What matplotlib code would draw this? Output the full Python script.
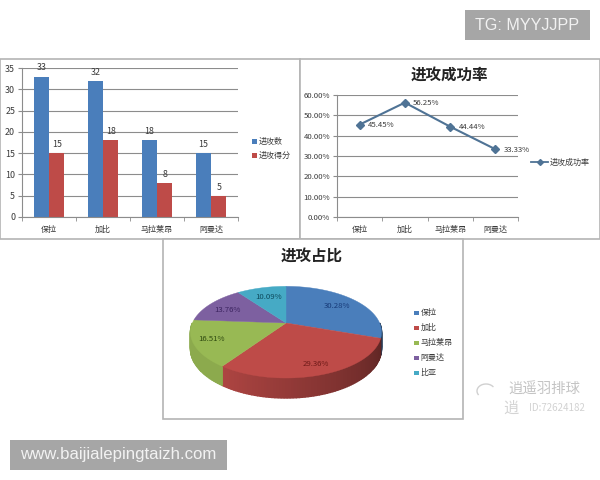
# -*- coding: utf-8 -*-
import matplotlib
matplotlib.use('Agg')
import matplotlib.pyplot as plt
import numpy as np
from matplotlib.patches import Rectangle

plt.rcParams['font.family'] = ['Noto Sans CJK SC', 'DejaVu Sans']

# data
players = ['保拉', '加比', '马拉莱昂', '阿曼达']
attacks = [33, 32, 18, 15]
points = [15, 18, 8, 5]
success_rate = [45.45, 56.25, 44.44, 33.33]
pie_names = ['保拉', '加比', '马拉莱昂', '阿曼达', '比亚']
pie_share = [30.28, 29.36, 16.51, 13.76, 10.09]

BLUE = '#4a7ebb'
RED = '#be4b48'
GREEN = '#98b954'
PURPLE = '#7d60a0'
TEAL = '#46aac5'
pie_colors = [BLUE, RED, GREEN, PURPLE, TEAL]
LINE = '#4f7395'
GRID = '#8c8c8c'
TXT = '#3a3a3a'
FRAME = '#b4b4b4'
CJK_SIZE = 5.8
NUM_SIZE = 5.6

W, H = 600, 480
fig = plt.figure(figsize=(6, 4.8), dpi=100, facecolor='white')


def axes_px(left, top, right, bottom):
    # 像素坐标 -> figure 坐标
    return fig.add_axes([left / W, 1 - bottom / H, (right - left) / W, (bottom - top) / H])


# 底层：边框、水印
bg = fig.add_axes([0, 0, 1, 1], zorder=0)
bg.set_xlim(0, W)
bg.set_ylim(H, 0)
bg.axis('off')
for x0, y0, x1, y1 in [(0, 59, 300, 239), (300, 59, 600, 239), (163, 239, 463, 419)]:
    bg.add_patch(Rectangle((x0, y0), x1 - x0, y1 - y0, fc='white', ec=FRAME, lw=1.2))


def style_axis(ax):
    for s in ['top', 'right']:
        ax.spines[s].set_visible(False)
    for s in ['left', 'bottom']:
        ax.spines[s].set_color(GRID)
        ax.spines[s].set_linewidth(0.8)
    ax.yaxis.grid(True, color=GRID, lw=0.8)
    ax.set_axisbelow(True)
    ax.tick_params(axis='y', length=3, color=GRID, labelsize=NUM_SIZE + 0.8, labelcolor=TXT, pad=2)
    ax.tick_params(axis='x', which='minor', length=3, color=GRID)
    ax.tick_params(axis='x', which='major', length=0, labelsize=CJK_SIZE, labelcolor=TXT, pad=6)
    ax.set_xticks(np.arange(0, len(players)))
    ax.set_xticklabels(players)
    ax.set_xticks(np.arange(-0.5, len(players)), minor=True)
    ax.set_xlim(-0.5, len(players) - 0.5)
    ax.patch.set_alpha(0)


# 柱状图
ax1 = axes_px(22, 68, 238, 217)
ax1.set_zorder(1)
style_axis(ax1)
x = np.arange(len(players))
bw = 0.285
bars1 = ax1.bar(x - bw / 2, attacks, bw, color=BLUE)
bars2 = ax1.bar(x + bw / 2, points, bw, color=RED)
for b in list(bars1) + list(bars2):
    ax1.annotate(str(int(b.get_height())), (b.get_x() + b.get_width() / 2, b.get_height()),
                 xytext=(0, 3), textcoords='offset points', ha='center', va='bottom',
                 fontsize=NUM_SIZE + 0.8, color=TXT, annotation_clip=False)
ax1.set_ylim(0, 35)
ax1.set_yticks(range(0, 36, 5))

for i, (name, c) in enumerate(zip(['进攻数', '进攻得分'], [BLUE, RED])):
    yy = 141 + i * 14.5
    bg.add_patch(Rectangle((252, yy - 2.5), 5, 5, fc=c, ec='none', zorder=3))
    bg.text(258.5, yy, name, fontsize=CJK_SIZE, color=TXT, va='center', zorder=3)

# 折线图
ax2 = axes_px(337, 95, 518, 217)
ax2.set_zorder(1)
style_axis(ax2)
ax2.plot(x, success_rate, color=LINE, lw=1.5, marker='D', ms=3.6, mfc=LINE, mec=LINE)
for i, v in enumerate(success_rate):
    ax2.annotate('%.2f%%' % v, (x[i], v), xytext=(6, -0.5), textcoords='offset points',
                 ha='left', va='center', fontsize=NUM_SIZE, color=TXT, annotation_clip=False)
ax2.set_ylim(0, 60)
ax2.set_yticks(range(0, 61, 10))
ax2.set_yticklabels(['%.2f%%' % t for t in range(0, 61, 10)], fontsize=NUM_SIZE)

bg.plot([531, 548], [162, 162], color=LINE, lw=1.3, zorder=3)
bg.plot([539.5], [162], color=LINE, marker='D', ms=3, zorder=3)
bg.text(550, 162, '进攻成功率', fontsize=CJK_SIZE, color=TXT, va='center', zorder=3)
bg.text(449, 74.5, '进攻成功率', fontsize=11.2, weight='bold', color='#222222', ha='center', va='center', zorder=3)
bg.text(312, 255.5, '进攻占比', fontsize=11.2, weight='bold', color='#222222', ha='center', va='center', zorder=3)

# 3D 饼图：用透视投影画顶面和侧面
pie = fig.add_axes([0, 0, 1, 1], zorder=2)
pie.set_xlim(0, W)
pie.set_ylim(H, 0)
pie.axis('off')
cx, cy = 286, 323
Rx, Ry, persp, depth = 93.6, 44, 0.2, 16


def project(theta):
    # theta 从正上方顺时针，弧度
    u, v = np.sin(theta), np.cos(theta)
    d = 1 + persp * v
    return cx + Rx * u / d, cy - Ry * v / d, depth / d


share = np.array(pie_share)
edges = np.concatenate([[0], np.cumsum(share)]) / share.sum() * 2 * np.pi


def darker(color, k):
    return tuple(np.array(matplotlib.colors.to_rgb(color)) * k)


# 侧面，右边暗左边亮
for i, c in enumerate(pie_colors):
    lo, hi = max(edges[i], np.pi / 2), min(edges[i + 1], 3 * np.pi / 2)
    if lo >= hi:
        continue
    steps = np.linspace(lo, hi, max(int((hi - lo) * 40), 2))
    for a, b in zip(steps[:-1], steps[1:]):
        xa, ya, da = project(a)
        xb, yb, db = project(b)
        k = min(0.42 + 0.5 * (a - np.pi / 2) / np.radians(125), 0.92)
        col = darker(c, k)
        pie.fill([xa, xb, xb, xa], [ya, yb, yb + db, ya + da], fc=col, ec=col, lw=1.0)

# 顶面
for i, c in enumerate(pie_colors):
    th = np.linspace(edges[i], edges[i + 1], 80)
    px, py, _ = project(th)
    pie.fill(np.r_[cx, px], np.r_[cy, py], fc=c, ec=c, lw=0.3)

label_pos = [(336.5, 306), (316, 364), (212, 339), (227.5, 310.5), (269, 297)]
label_cols = ['#173a78', '#6e1a18', '#2f4a10', '#3c2460', '#0d4a5c']
for v, (lx, ly), lc in zip(pie_share, label_pos, label_cols):
    pie.text(lx, ly, '%.2f%%' % v, fontsize=NUM_SIZE, color=lc, ha='center', va='center')

for i, (name, c) in enumerate(zip(pie_names, pie_colors)):
    yy = 312.5 + i * 15
    pie.add_patch(Rectangle((414, yy - 2), 4.5, 4.5, fc=c, ec='none'))
    pie.text(420.5, yy, name, fontsize=CJK_SIZE, color=TXT, va='center')

# 水印
bg.text(544, 390, '逍遥羽排球', fontsize=10.4, color='#c4c4c4', ha='center', va='center', zorder=3)
bg.text(557, 408, 'ID:72624182', fontsize=7, color='#d2d2d2', ha='center', va='center', zorder=3)
bg.text(511, 408, '逍', fontsize=11, color='#d4d4d4', ha='center', va='center', zorder=3)
arc = np.linspace(np.radians(150), np.radians(320), 30)
bg.plot(486 + 9 * np.cos(arc), 391 + 7 * np.sin(arc), color='#d0d0d0', lw=1, zorder=3)

# 灰色条
top = fig.add_axes([0, 0, 1, 1], zorder=5)
top.set_xlim(0, W)
top.set_ylim(H, 0)
top.axis('off')
top.add_patch(Rectangle((465, 10), 125, 30, fc='#a6a6a6', ec='none'))
top.text(527.5, 25, 'TG: MYYJJPP', fontsize=11.6, color='#f2f2f2', family='Liberation Sans', ha='center', va='center')
top.add_patch(Rectangle((10, 440), 217, 30, fc='#a6a6a6', ec='none'))
top.text(118.5, 455, 'www.baijialepingtaizh.com', fontsize=12.1, color='#f2f2f2', family='Liberation Sans', ha='center', va='center')

fig.savefig('out.png', dpi=100)
